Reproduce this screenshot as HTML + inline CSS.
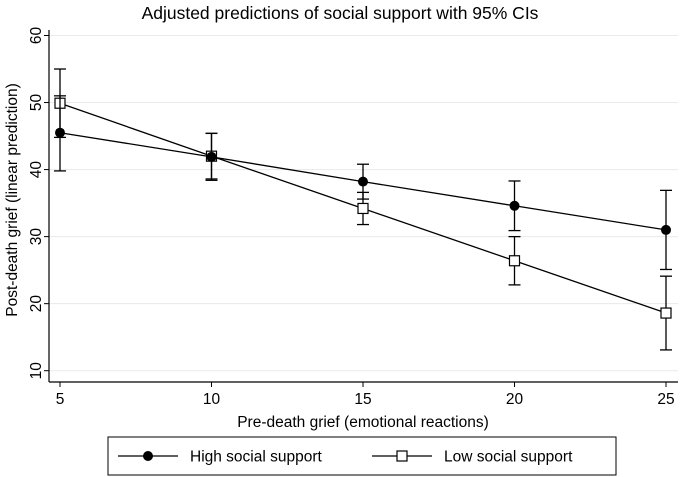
<!DOCTYPE html>
<html><head><meta charset="utf-8"><style>
body{margin:0;background:#fff;}
svg{display:block;font-family:"Liberation Sans",Arial,sans-serif;}
</style></head><body>
<svg id="chart" width="680" height="477" viewBox="0 0 680 477">
<text x="340" y="19" font-size="17.5" text-anchor="middle">Adjusted predictions of social support with 95% CIs</text>
<g id="grid"></g>
<g id="axes"></g>
<g id="series"></g>
<text x="363" y="427" font-size="15.5" text-anchor="middle">Pre-death grief (emotional reactions)</text>
<text transform="translate(17,200) rotate(-90)" font-size="15.5" text-anchor="middle">Post-death grief (linear prediction)</text>
<g>
<rect x="108" y="437" width="508" height="38" fill="#fff" stroke="#000" stroke-width="1"/>
<g>
<line x1="118" y1="456" x2="178" y2="456" stroke="#000" stroke-width="1.3"/>
<circle cx="148" cy="456" r="5" fill="#000"/>
<text x="190" y="461.5" font-size="15.5">High social support</text>
</g>
<g>
<line x1="372" y1="456" x2="432" y2="456" stroke="#000" stroke-width="1.3"/>
<rect x="397" y="451" width="10" height="10" fill="#fff" stroke="#000" stroke-width="1.2"/>
<text x="444" y="461.5" font-size="15.5">Low social support</text>
</g>
</g>
</svg>
<script>
const xCats=[5,10,15,20,25];
const yTicks=[10,20,30,40,50,60];
const highVals=[45.5,41.9,38.2,34.6,31.0];
const highLo=[39.8,38.4,35.6,30.9,25.1];
const highHi=[51.0,45.4,40.8,38.3,36.9];
const lowVals=[49.9,42.0,34.2,26.4,18.6];
const lowLo=[44.8,38.6,31.8,22.8,13.1];
const lowHi=[55.0,45.4,36.6,30.0,24.1];
const NS="http://www.w3.org/2000/svg";
const X=v=>60+(v-5)*(666-60)/20;
const Y=v=>370.7-(v-10)*(370.7-35.5)/50;
function mk(t,a,p){const e=document.createElementNS(NS,t);for(const k in a)e.setAttribute(k,a[k]);p.appendChild(e);return e;}
const grid=document.getElementById('grid'),axes=document.getElementById('axes'),ser=document.getElementById('series');
yTicks.forEach(t=>{
 const g=mk('line',{x1:49,x2:678,y1:Y(t),y2:Y(t),stroke:'#eaeaea','stroke-width':1},grid);
 
 
 mk('line',{x1:44,x2:49,y1:Y(t),y2:Y(t),stroke:'#000'},axes);
 const tx=mk('text',{transform:`translate(41,${Y(t)}) rotate(-90)`,'font-size':15.5,'text-anchor':'middle'},axes);
 tx.textContent=t;
 
 
});
mk('line',{x1:49,x2:49,y1:30,y2:382,stroke:'#000','stroke-width':1.2},axes);
mk('line',{x1:49,x2:678,y1:382,y2:382,stroke:'#000','stroke-width':1.2},axes);
xCats.forEach(c=>{
 mk('line',{x1:X(c),x2:X(c),y1:382,y2:387,stroke:'#000'},axes);
 const tx=mk('text',{x:X(c),y:404,'font-size':15.5,'text-anchor':'middle'},axes);
 tx.textContent=c;
 
 
});
function series(vals,lo,hi,name,marker){
 const g=mk('g',{},ser);
 
 
 mk('polyline',{points:xCats.map((c,i)=>X(c)+','+Y(vals[i])).join(' '),fill:'none',stroke:'#000','stroke-width':1.3},g);
 xCats.forEach((c,i)=>{
  const x=X(c);
  mk('line',{x1:x,x2:x,y1:Y(lo[i]),y2:Y(hi[i]),stroke:'#000','stroke-width':1.3},g);
  mk('line',{x1:x-6,x2:x+6,y1:Y(lo[i]),y2:Y(lo[i]),stroke:'#000','stroke-width':1.3},g);
  mk('line',{x1:x-6,x2:x+6,y1:Y(hi[i]),y2:Y(hi[i]),stroke:'#000','stroke-width':1.3},g);
  let m;
  if(marker==='circle')m=mk('circle',{cx:x,cy:Y(vals[i]),r:5,fill:'#000'},g);
  else m=mk('rect',{x:x-5,y:Y(vals[i])-5,width:10,height:10,fill:'#fff',stroke:'#000','stroke-width':1.2},g);
  
  
 });
}
series(lowVals,lowLo,lowHi,'low-support-series','square');
series(highVals,highLo,highHi,'high-support-series','circle');
</script>
</body></html>
